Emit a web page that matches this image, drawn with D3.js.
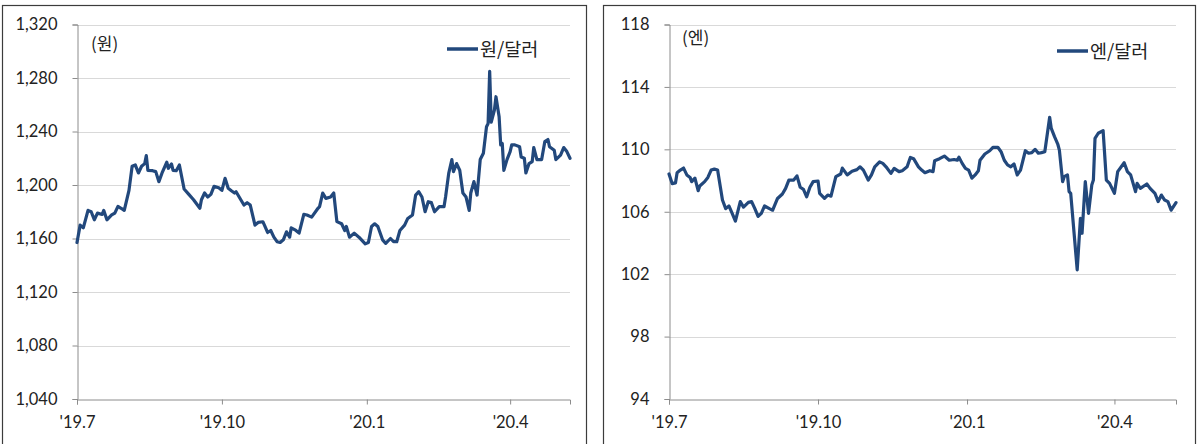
<!DOCTYPE html>
<html>
<head>
<meta charset="utf-8">
<script src="https://cdn.jsdelivr.net/npm/d3@7/dist/d3.min.js"></script>
<style>
  html, body { margin: 0; padding: 0; background: #fff; }
  svg { display: block; }
</style>
</head>
<body>
<svg id="chart" width="1197" height="444"></svg>
<script>
// KRW/USD (원/달러), Jul 2019 – May 2020
const wonSeries = [
  ["2019-07-01",1157],["2019-07-03",1170],["2019-07-05",1168],["2019-07-08",1181],["2019-07-10",1180],
  ["2019-07-12",1174],["2019-07-14",1179],["2019-07-17",1178],["2019-07-18",1181],["2019-07-20",1174],
  ["2019-07-23",1177.6],["2019-07-25",1179],["2019-07-27",1184],["2019-07-29",1182.6],["2019-07-31",1181],
  ["2019-08-03",1196],["2019-08-05",1214],["2019-08-07",1215],["2019-08-09",1209],["2019-08-11",1214],
  ["2019-08-13",1216],["2019-08-14",1222],["2019-08-15",1211],["2019-08-18",1210.7],["2019-08-20",1210],
  ["2019-08-22",1202.5],["2019-08-24",1209],["2019-08-27",1217],["2019-08-28",1212.5],["2019-08-30",1215.7],
  ["2019-08-31",1211],["2019-09-02",1210.7],["2019-09-04",1215],["2019-09-07",1197],["2019-09-10",1193],
  ["2019-09-13",1189],["2019-09-17",1182.6],["2019-09-18",1189],["2019-09-20",1194],["2019-09-22",1191],
  ["2019-09-24",1193],["2019-09-26",1199],["2019-09-29",1198],["2019-10-01",1196],["2019-10-03",1205],
  ["2019-10-05",1197.5],["2019-10-07",1195.7],["2019-10-09",1194],["2019-10-10",1195],["2019-10-13",1189],
  ["2019-10-15",1185],["2019-10-17",1186.8],["2019-10-19",1185],["2019-10-22",1170],["2019-10-24",1172],
  ["2019-10-27",1172.5],["2019-10-28",1170],["2019-10-30",1164.5],["2019-11-01",1166],["2019-11-03",1161],
  ["2019-11-05",1157.6],["2019-11-07",1157],["2019-11-09",1159],["2019-11-11",1165],["2019-11-13",1161],
  ["2019-11-14",1168],["2019-11-17",1166],["2019-11-19",1164],["2019-11-22",1178],["2019-11-24",1177.6],
  ["2019-11-27",1176],["2019-12-01",1182.6],["2019-12-02",1183.8],["2019-12-04",1194],["2019-12-06",1190],
  ["2019-12-09",1191],["2019-12-11",1194],["2019-12-13",1172.6],["2019-12-16",1171],["2019-12-18",1166],
  ["2019-12-19",1169],["2019-12-21",1161],["2019-12-24",1164],["2019-12-27",1161],["2019-12-31",1156],
  ["2020-01-02",1157],["2020-01-04",1169],["2020-01-06",1171],["2020-01-08",1169],["2020-01-11",1159],
  ["2020-01-13",1156.4],["2020-01-16",1160],["2020-01-18",1157.6],["2020-01-20",1157.6],["2020-01-22",1166],
  ["2020-01-25",1170],["2020-01-27",1175],["2020-01-30",1177.6],["2020-02-01",1192.5],["2020-02-03",1195],
  ["2020-02-05",1191],["2020-02-07",1180],["2020-02-09",1187.5],["2020-02-11",1186.8],["2020-02-13",1180],
  ["2020-02-16",1183.8],["2020-02-19",1183.8],["2020-02-20",1191],["2020-02-22",1208.7],["2020-02-24",1219],
  ["2020-02-25",1210],["2020-02-27",1216],["2020-02-29",1211],["2020-03-02",1194],["2020-03-04",1191],
  ["2020-03-06",1181],["2020-03-07",1194],["2020-03-09",1202.5],["2020-03-11",1192.5],["2020-03-13",1219],
  ["2020-03-15",1223.7],["2020-03-17",1243.6],["2020-03-18",1246],["2020-03-19",1285],["2020-03-20",1247],
  ["2020-03-22",1256],["2020-03-23",1266],["2020-03-25",1251],["2020-03-26",1230],["2020-03-27",1231],
  ["2020-03-28",1211],["2020-03-30",1219],["2020-04-01",1225],["2020-04-02",1230],["2020-04-04",1230],
  ["2020-04-07",1228.6],["2020-04-08",1221],["2020-04-10",1220],["2020-04-11",1209],["2020-04-13",1216],
  ["2020-04-15",1217.5],["2020-04-16",1228],["2020-04-18",1219],["2020-04-21",1219],["2020-04-23",1232.4],
  ["2020-04-25",1234],["2020-04-26",1228.6],["2020-04-29",1226],["2020-04-30",1219],["2020-05-03",1222.4],
  ["2020-05-05",1228],["2020-05-07",1225],["2020-05-09",1220]
];

// JPY/USD (엔/달러), Jul 2019 – May 2020
const yenSeries = [
  ["2019-07-01",108.42],["2019-07-03",107.8],["2019-07-05",107.85],["2019-07-06",108.5],["2019-07-08",108.67],
  ["2019-07-10",108.8],["2019-07-12",108.36],["2019-07-14",108.2],["2019-07-15",107.93],["2019-07-17",108.15],
  ["2019-07-19",107.35],["2019-07-20",107.65],["2019-07-23",107.93],["2019-07-25",108.2],["2019-07-27",108.67],
  ["2019-07-29",108.73],["2019-07-31",108.67],["2019-08-03",106.75],["2019-08-05",106.2],["2019-08-07",106.37],
  ["2019-08-09",105.9],["2019-08-11",105.4],["2019-08-14",106.65],["2019-08-16",106.3],["2019-08-19",106.6],
  ["2019-08-21",106.65],["2019-08-23",106.2],["2019-08-25",105.7],["2019-08-27",105.9],["2019-08-29",106.37],
  ["2019-09-01",106.2],["2019-09-03",106.1],["2019-09-06",106.85],["2019-09-09",107.14],["2019-09-11",107.5],
  ["2019-09-13",108.03],["2019-09-16",108.03],["2019-09-18",108.3],["2019-09-20",107.57],["2019-09-22",107.44],
  ["2019-09-24",106.96],["2019-09-26",107.57],["2019-09-28",107.93],["2019-10-01",107.97],["2019-10-02",107.18],
  ["2019-10-05",106.86],["2019-10-07",107.07],["2019-10-09",107.0],["2019-10-12",108.25],["2019-10-15",108.42],
  ["2019-10-16",108.8],["2019-10-19",108.36],["2019-10-22",108.6],["2019-10-25",108.7],["2019-10-27",108.88],
  ["2019-10-29",108.67],["2019-11-01",108.03],["2019-11-03",108.36],["2019-11-05",108.88],["2019-11-08",109.2],
  ["2019-11-10",109.1],["2019-11-12",108.88],["2019-11-15",108.46],["2019-11-17",108.78],["2019-11-20",108.57],
  ["2019-11-22",108.63],["2019-11-25",108.88],["2019-11-27",109.48],["2019-11-29",109.4],["2019-12-02",108.88],
  ["2019-12-04",108.67],["2019-12-06",108.5],["2019-12-09",108.63],["2019-12-11",108.57],["2019-12-12",109.27],
  ["2019-12-15",109.4],["2019-12-18",109.57],["2019-12-21",109.3],["2019-12-24",109.35],["2019-12-26",109.3],
  ["2019-12-27",109.5],["2019-12-29",109.1],["2019-12-31",108.78],["2020-01-02",108.67],["2020-01-04",108.15],
  ["2020-01-06",108.36],["2020-01-08",108.63],["2020-01-09",109.3],["2020-01-12",109.7],["2020-01-15",109.91],
  ["2020-01-17",110.13],["2020-01-20",110.13],["2020-01-22",109.85],["2020-01-24",109.3],["2020-01-26",109.0],
  ["2020-01-28",108.88],["2020-01-30",109.06],["2020-02-01",108.36],["2020-02-03",108.67],["2020-02-06",109.91],
  ["2020-02-08",109.75],["2020-02-10",109.79],["2020-02-12",110.0],["2020-02-14",109.75],["2020-02-16",109.79],
  ["2020-02-18",109.85],["2020-02-21",112.05],["2020-02-22",111.34],["2020-02-24",110.81],["2020-02-26",110.34],
  ["2020-02-27",109.95],["2020-02-29",107.93],["2020-03-01",108.25],["2020-03-03",108.36],["2020-03-04",107.29],
  ["2020-03-05",107.18],["2020-03-09",102.27],["2020-03-11",105.58],["2020-03-12",104.62],["2020-03-14",107.93],
  ["2020-03-16",105.9],["2020-03-18",107.71],["2020-03-19",108.03],["2020-03-20",110.7],["2020-03-22",111.03],
  ["2020-03-25",111.2],["2020-03-27",108.03],["2020-03-29",107.82],["2020-04-01",107.18],["2020-04-03",108.57],
  ["2020-04-07",109.14],["2020-04-09",108.57],["2020-04-11",108.36],["2020-04-14",107.29],["2020-04-15",107.82],
  ["2020-04-17",107.5],["2020-04-21",107.78],["2020-04-23",107.5],["2020-04-26",107.18],["2020-04-28",106.65],
  ["2020-04-30",107.07],["2020-05-02",106.75],["2020-05-04",106.65],["2020-05-06",106.1],["2020-05-09",106.58]
];

// Shared x-axis ticks (quarter starts)
const tickDates  = ["2019-07-01", "2019-10-01", "2020-01-01", "2020-04-01"];
const tickLabels = ["'19.7", "'19.10", "'20.1", "'20.4"];
const dateRange  = ["2019-07-01", "2020-05-09"];

// Y-axis ticks per panel
const wonTicks = [1040, 1080, 1120, 1160, 1200, 1240, 1280, 1320];
const yenTicks = [94, 98, 102, 106, 110, 114, 118];

const parse = d3.timeParse("%Y-%m-%d");
const svg = d3.select("#chart");

const LINE_COLOR = "#22487c";
const GRID_COLOR = "#d9d9d9";
const AXIS_COLOR = "#8c8c8c";
const NUM_FONT = "Lato, 'Liberation Sans', sans-serif";
const KR_FONT = "'Noto Sans CJK KR', 'Noto Sans', sans-serif";

function drawPanel(cfg) {
  const g = svg.append("g");

  // panel frame
  g.append("rect")
    .attr("x", cfg.frame[0]).attr("y", cfg.frame[1])
    .attr("width", cfg.frame[2]).attr("height", cfg.frame[3])
    .attr("fill", "none").attr("stroke", "#3c3c3c").attr("stroke-width", 1.2);

  const x = d3.scaleTime()
    .domain(dateRange.map(parse))
    .range([cfg.left, cfg.right]);
  const y = d3.scaleLinear()
    .domain(d3.extent(cfg.ticks))
    .range([cfg.bottom, cfg.top]);

  // horizontal gridlines
  g.append("g").selectAll("line")
    .data(cfg.ticks.slice(1))
    .join("line")
    .attr("x1", cfg.left).attr("x2", cfg.right)
    .attr("y1", d => Math.round(y(d)) + 0.5).attr("y2", d => Math.round(y(d)) + 0.5)
    .attr("stroke", GRID_COLOR).attr("stroke-width", 1);

  // y axis
  const yAxis = d3.axisLeft(y)
    .tickValues(cfg.ticks)
    .tickSize(5)
    .tickPadding(15)
    .tickFormat(cfg.fmt);
  const ya = g.append("g")
    .attr("transform", `translate(${cfg.left + 0.5},0)`)
    .call(yAxis);
  ya.select(".domain").attr("stroke", AXIS_COLOR);
  ya.selectAll(".tick line").attr("stroke", AXIS_COLOR);
  ya.selectAll(".tick text")
    .attr("font-family", NUM_FONT).attr("font-size", 16.5).attr("fill", "#222");

  // x axis
  const xAxis = d3.axisBottom(x)
    .tickValues(tickDates.map(parse))
    .tickSize(5)
    .tickPadding(12)
    .tickFormat((d, i) => tickLabels[i]);
  const xa = g.append("g")
    .attr("transform", `translate(0,${cfg.bottom + 0.5})`)
    .call(xAxis);
  xa.select(".domain").attr("stroke", AXIS_COLOR);
  xa.selectAll(".tick line").attr("stroke", AXIS_COLOR);
  xa.selectAll(".tick text")
    .attr("font-family", NUM_FONT).attr("font-size", 16.5).attr("fill", "#222");

  // series line
  const line = d3.line()
    .x(d => x(parse(d[0])))
    .y(d => y(d[1]));
  g.append("path")
    .datum(cfg.series)
    .attr("d", line)
    .attr("fill", "none")
    .attr("stroke", LINE_COLOR)
    .attr("stroke-width", 3.2)
    .attr("stroke-linejoin", "round")
    .attr("stroke-linecap", "round");

  // unit label
  g.append("text")
    .attr("x", cfg.unitPos[0]).attr("y", cfg.unitPos[1])
    .attr("font-family", KR_FONT).attr("font-size", 17).attr("fill", "#222")
    .text(cfg.unit);

  // legend
  g.append("line")
    .attr("x1", cfg.legend[0]).attr("x2", cfg.legend[0] + 31)
    .attr("y1", cfg.legend[1]).attr("y2", cfg.legend[1])
    .attr("stroke", LINE_COLOR).attr("stroke-width", 3.5);
  g.append("text")
    .attr("x", cfg.legend[0] + 33).attr("y", cfg.legend[1])
    .attr("dy", "0.36em")
    .attr("font-family", KR_FONT).attr("font-size", 18.5).attr("fill", "#222")
    .text(cfg.name);
}

drawPanel({
  series: wonSeries, ticks: wonTicks, fmt: d3.format(","),
  frame: [2.5, 5.5, 584, 450],
  left: 77, right: 570, top: 24.5, bottom: 399,
  unit: "(원)", unitPos: [91, 50],
  name: "원/달러", legend: [447, 49]
});

drawPanel({
  series: yenSeries, ticks: yenTicks, fmt: d3.format("d"),
  frame: [603.5, 5.5, 592, 450],
  left: 669, right: 1176, top: 24.5, bottom: 399,
  unit: "(엔)", unitPos: [682, 44],
  name: "엔/달러", legend: [1057, 51]
});
</script>
</body>
</html>
